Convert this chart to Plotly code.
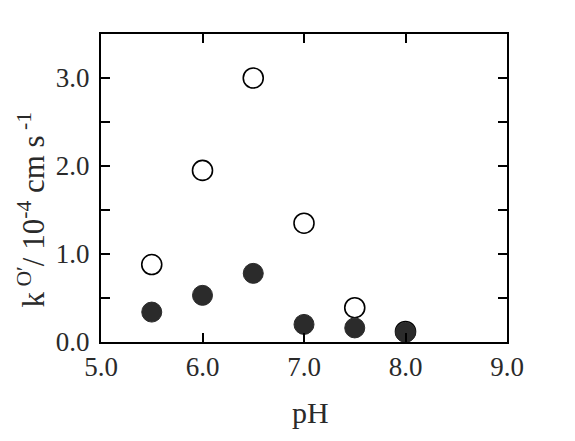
import plotly.graph_objects as go

# pH values and rate constants
ph = [5.5, 6.0, 6.5, 7.0, 7.5, 8.0]
k_open = [0.88, 1.95, 3.0, 1.35, 0.39, 0.12]
k_filled = [0.34, 0.53, 0.78, 0.20, 0.16, 0.11]

font = "Liberation Serif"

fig = go.Figure()

fig.add_trace(go.Scatter(
    x=ph, y=k_open, mode='markers',
    marker=dict(size=20, color='white', line=dict(color='black', width=1.6)),
    showlegend=False
))
fig.add_trace(go.Scatter(
    x=ph, y=k_filled, mode='markers',
    marker=dict(size=20, color='#2b2b2b', line=dict(color='#2b2b2b', width=1)),
    showlegend=False
))

axis_common = dict(
    showline=True, linecolor='black', linewidth=2, mirror='ticks',
    ticks='inside', ticklen=9, tickwidth=1.5, tickcolor='black',
    showgrid=False, zeroline=False,
    tickfont=dict(family=font, size=27, color='#2a2a2a'),
)

fig.update_xaxes(range=[5.0, 9.0], dtick=1.0, tick0=5.0, tickformat='.1f', **axis_common)
fig.update_yaxes(range=[0, 3.5], dtick=1.0, tick0=0, tickformat='.1f', ticklabelstandoff=4,
                 minor=dict(dtick=0.5, ticks='inside', ticklen=9, tickcolor='black', tickwidth=1.5),
                 **axis_common)

fig.add_annotation(
    text="pH", xref='paper', yref='paper', x=0.517, y=-0.23,
    xanchor='center', yanchor='middle',
    showarrow=False, font=dict(family=font, size=30, color='#2a2a2a')
)
fig.add_annotation(
    text="k<sup> O′</sup>/ 10<sup>-4</sup> cm s<sup> -1</sup>",
    xref='paper', yref='paper', x=-0.17, y=0.43, textangle=-90,
    xanchor='center', yanchor='middle',
    showarrow=False, font=dict(family=font, size=31, color='#2a2a2a')
)

fig.update_layout(
    width=575, height=441,
    margin=dict(l=93, r=76, t=26, b=107),
    plot_bgcolor='white', paper_bgcolor='white',
)

fig.write_html("out.html")
